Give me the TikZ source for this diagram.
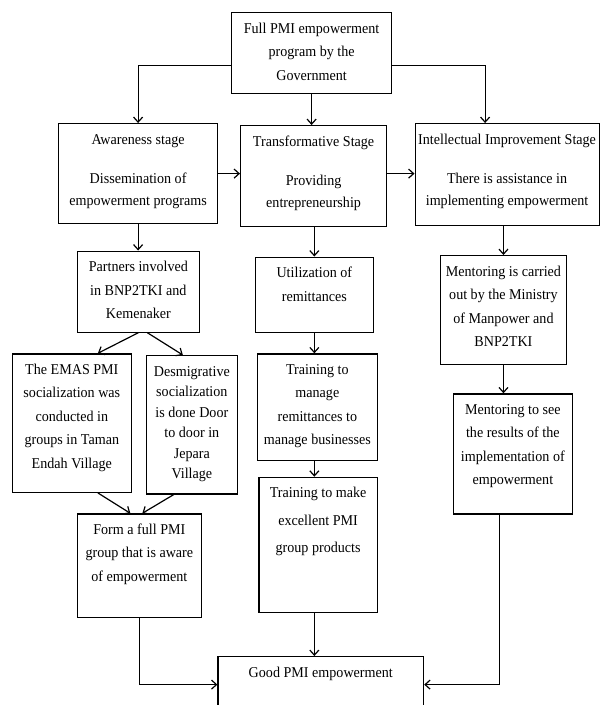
\documentclass[tikz,border=0pt]{standalone}
\usepackage{fontspec}
\setmainfont{Liberation Serif}[FakeStretch=0.94]
\usetikzlibrary{arrows.meta}
\newcommand{\blk}[3]{\parbox[c][#2][t]{#1}{\centering\rule{0pt}{20.5pt}#3}}
\tikzset{
  box/.style={draw, line width=1.2pt, inner sep=0pt, anchor=north west},
  >={Straight Barb[length=5pt,width=9pt]}
}
\begin{document}
\begin{tikzpicture}[x=1pt, y=-1pt, line width=1.2pt,
    font=\fontsize{15pt}{23.5pt}\selectfont]
  \useasboundingbox (0,0) rectangle (600,705);
  \clip (0,0) rectangle (600,705);
  \node[box] (gov) at (231,12)
    {\blk{160pt}{81pt}{Full PMI empowerment\\program by the\\Government}};
  \node[box] (aware) at (58,123)
    {\blk{159pt}{100pt}{\baselineskip=21.7pt Awareness stage\\[18pt]Dissemination of\\empowerment programs}};
  \node[box] (trans) at (240,125)
    {\blk{146pt}{101pt}{\baselineskip=21.7pt Transformative Stage\\[18pt]Providing\\entrepreneurship}};
  \node[box] (intel) at (414.5,123)
    {\blk{184pt}{102pt}{\baselineskip=21.7pt Intellectual Improvement Stage\\[18pt]There is assistance in\\implementing empowerment}};
  \node[box] (partners) at (76.5,250.5)
    {\blk{122.5pt}{81pt}{Partners involved\\in BNP2TKI and\\Kemenaker}};
  \node[box] (util) at (254.5,256.5)
    {\blk{118.5pt}{75pt}{Utilization of\\remittances}};
  \node[box] (manage) at (256.5,353.3)
    {\blk{120.5pt}{106.7pt}{Training to\\manage\\remittances to\\manage businesses}};
  \node[box] (mentor) at (440,255)
    {\blk{125.7pt}{109pt}{Mentoring is carried\\out by the Ministry\\of Manpower and\\BNP2TKI}};
  \node[box] (mentor2) at (452.5,393.3)
    {\blk{119.5pt}{120pt}{Mentoring to see\\the results of the\\implementation of\\empowerment}};
  \node[box] (emas) at (11.5,353.3)
    {\blk{119.5pt}{138.4pt}{The EMAS PMI\\socialization was\\conducted in\\groups in Taman\\Endah Village}};
  \node[box] (desmig) at (146,355)
    {\blk{90.5pt}{138.3pt}{\baselineskip=20.5pt Desmigrative\\socialization\\is done Door\\to door in\\Jepara\\Village}};
  \node[box] (form) at (76.5,513.3)
    {\blk{124.5pt}{103.4pt}{Form a full PMI\\group that is aware\\of empowerment}};
  \node[box] (make) at (258.3,476.7)
    {\blk{118.4pt}{135pt}{\baselineskip=27.5pt Training to make\\excellent PMI\\group products}};
  \node[box] (good) at (217.4,656)
    {\blk{205.6pt}{56pt}{Good PMI empowerment}};
  \begin{scope}[->]
    \draw ([yshift=-12.5pt]gov.west) -| (aware.north);
    \draw (gov.south) -- (gov.south |- trans.north);
    \draw ([yshift=-12.5pt]gov.east) -| ([xshift=-22pt]intel.north);
    \draw (aware.east) -- (trans.west |- aware.east);
    \draw (trans.east |- aware.east) -- (intel.west |- aware.east);
    \draw (aware.south) -- (aware.south |- partners.north);
    \draw (util.north |- trans.south) -- (util.north);
    \draw (mentor.north |- intel.south) -- (mentor.north);
    \draw (partners.south) -- ([xshift=26pt]emas.north);
    \draw ([xshift=9pt]partners.south) -- ([xshift=-9pt]desmig.north);
    \draw ([xshift=26pt]emas.south) -- ([xshift=-9pt]form.north);
    \draw ([xshift=-18pt]desmig.south) -- ([xshift=3pt]form.north);
    \draw (util.south) -- (util.south |- manage.north);
    \draw (util.south |- manage.south) -- (util.south |- make.north);
    \draw (mentor.south) -- (mentor.south |- mentor2.north);
    \draw (util.south |- make.south) -- (util.south |- good.north);
    \draw (form.south) |- (good.west);
    \draw ([xshift=-13pt]mentor2.south) |- (good.east);
  \end{scope}
\end{tikzpicture}
\end{document}
